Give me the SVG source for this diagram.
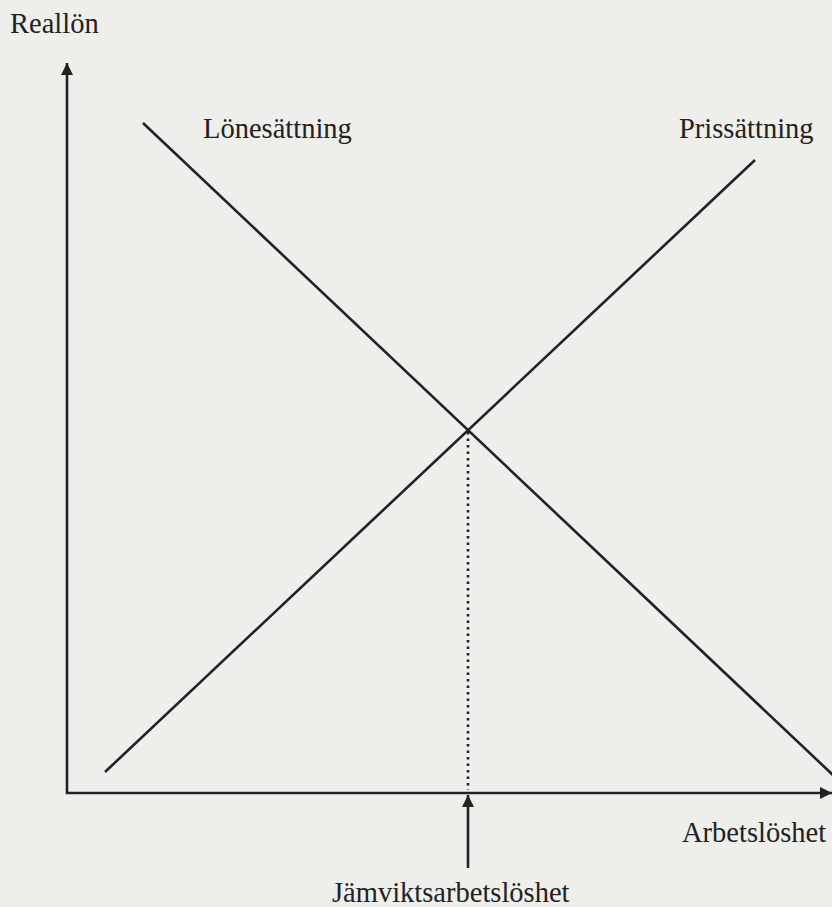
<svg xmlns="http://www.w3.org/2000/svg" width="832" height="907" viewBox="0 0 832 907">
<style>
.ln{stroke:#222;stroke-width:2.6;fill:none}
.lbl{font-family:"Liberation Serif","Times New Roman",serif;font-size:28.5px;fill:#222}
</style>
<defs>
<marker id="ah" viewBox="0 0 12 12" refX="12" refY="6" markerWidth="12" markerHeight="12" markerUnits="userSpaceOnUse" orient="auto">
<path d="M0,0 L12,6 L0,12 Z" fill="#222"/>
</marker>
</defs>
<rect width="832" height="907" fill="#eeeeeb"/>
<g id="connectors">
<line class="ln" x1="67" y1="794" x2="67" y2="63" marker-end="url(#ah)"/>
<line class="ln" x1="66" y1="793" x2="832" y2="793" marker-end="url(#ah)"/>
<line class="ln" x1="143" y1="123" x2="834" y2="776"/>
<line class="ln" x1="105" y1="772" x2="755" y2="160"/>
<line x1="468" y1="432" x2="468" y2="790" stroke="#222" stroke-width="2.6" stroke-dasharray="2.5,4" fill="none"/>
<line class="ln" x1="468" y1="868" x2="468" y2="795" marker-end="url(#ah)"/>
</g>
<g id="reallon"><text class="lbl" x="10" y="33">Reallön</text></g>
<g id="lonesattning"><text class="lbl" x="203" y="138">Lönesättning</text></g>
<g id="prissattning"><text class="lbl" x="679" y="138">Prissättning</text></g>
<g id="arbetsloshet"><text class="lbl" x="682" y="842">Arbetslöshet</text></g>
<g id="jamvikt"><text class="lbl" x="332" y="902">Jämviktsarbetslöshet</text></g>
</svg>
